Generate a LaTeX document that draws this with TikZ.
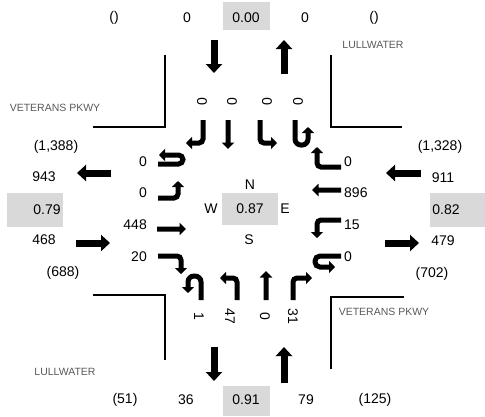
\documentclass[tikz,border=0pt]{standalone}
\usepackage{fontspec}
\setmainfont{Liberation Sans}
\usetikzlibrary{arrows.meta}
\colorlet{vcfill}{gray!30}
\colorlet{roadtext}{black!65}
\tikzset{
    bigarrow/.style={line width=7pt, -{Triangle[length=9pt,width=16pt]}},
    turnarrow/.style={line width=5pt, rounded corners=4pt, -{Triangle[length=6pt,width=12pt]}},
    vol/.style={font=\fontsize{14}{16}\selectfont, inner sep=0pt},
    roadname/.style={font=\fontsize{10.5}{12}\selectfont, text=roadtext, inner sep=0pt},
    curb/.style={line width=1.4pt}
}

\begin{document}
\begin{tikzpicture}[x=1pt, y=-1pt]
        \useasboundingbox (0,0) rectangle (485,416);
        \draw[curb] (165,55) -- (165,127) -- (93,127);
        \draw[curb] (331,55) -- (331,127) -- (402,127);
        \draw[curb] (93,295) -- (165,295) -- (165,360);
        \draw[curb] (404,297) -- (331,297) -- (331,369);
        \node[roadname] (nelabel) at (373,45) {LULLWATER};
        \node[roadname] (nwlabel) at (55,108) {VETERANS PKWY};
        \node[roadname] (swlabel) at (65,372) {LULLWATER};
        \node[roadname] (selabel) at (384,312) {VETERANS PKWY};

        \fill[vcfill] (223,2) rectangle (270,30);
        \fill[vcfill] (223,386) rectangle (270,416);
        \fill[vcfill] (7,193) rectangle (63,227);
        \fill[vcfill] (430,193) rectangle (485,227);
        \fill[vcfill] (222,193) rectangle (278,225);
        \node[vol] (nvc) at (246,18) {0.00};
        \node[vol] (svc) at (246,400) {0.91};
        \node[vol] (wvc) at (47,210) {0.79};
        \node[vol] (evc) at (446,210) {0.82};
        \node[vol] (ivc) at (250,209) {0.87};
        \node[vol] (north) at (250,185) {N};
        \node[vol] (west) at (211,209) {W};
        \node[vol] (east) at (285,209) {E};
        \node[vol] (south) at (249,240) {S};

        \foreach \x/\t [count=\i] in {114/(),187/0,305/0,374/()}
        {
            \node[vol] (ntot\i) at (\x,18) {\t};
        }
        \foreach \x/\t [count=\i] in {125/(51),186/36,306/79,375/(125)}
        {
            \node[vol] (stot\i) at (\x,400) {\t};
        }
        \node[vol] (wtot1) at (56,147) {(1,388)};
        \node[vol] (wtot2) at (44,177) {943};
        \node[vol] (wtot3) at (44,240) {468};
        \node[vol] (wtot4) at (63,273) {(688)};
        \node[vol] (etot1) at (440,147) {(1,328)};
        \node[vol] (etot2) at (443,178) {911};
        \node[vol] (etot3) at (443,241) {479};
        \node[vol] (etot4) at (432,274) {(702)};

        \foreach \x [count=\i] in {202,232,267,298}
        {
            \node[vol, rotate=90] (nlane\i) at (\x,102) {0};
        }
        \foreach \x/\t [count=\i] in {199/1,230/47,265/0,293/31}
        {
            \node[vol, rotate=-90] (slane\i) at (\x,316) {\t};
        }
        \foreach \y/\t [count=\i] in {162/0,193/0,225/448,257/20}
        {
            \node[vol, anchor=east] (wlane\i) at (147,\y) {\t};
        }
        \foreach \y/\t [count=\i] in {162/0,193/896,225/15,257/0}
        {
            \node[vol, anchor=west] (elane\i) at (344,\y) {\t};
        }

        \draw[bigarrow] (214,40) -- (214,73);
        \draw[bigarrow] (284,74) -- (284,40);
        \draw[bigarrow] (214,347) -- (214,381);
        \draw[bigarrow] (284,383) -- (284,347);
        \draw[bigarrow] (111,173) -- (77,173);
        \draw[bigarrow] (76,243) -- (110,243);
        \draw[bigarrow] (421,173) -- (386,173);
        \draw[bigarrow] (385,243) -- (419,243);

        \foreach \x/\y/\a in {228/120/-90,157/229/0,341/190/180,266/300/90}
        {
            \fill[shift={(\x,\y)}, rotate=\a] (0,-2.5) -- (22.5,-2.5) -- (22.5,-6.25) -- (29,0)
                -- (22.5,6.25) -- (22.5,2.5) -- (0,2.5) -- cycle;
        }

        \draw[turnarrow] (203,120) -- (203,143) -- (186,143);
        \draw[turnarrow] (260,120) -- (260,143) -- (277,143);
        \draw[turnarrow, rounded corners=6pt] (295,120) -- (295,145) -- (308,145) -- (308,127);

        \draw[turnarrow, rounded corners=4.5pt] (158,164) -- (183,164) -- (183,155) -- (159,155);
        \draw[turnarrow] (158,198) -- (178,198) -- (178,181);
        \draw[turnarrow] (158,256) -- (181,256) -- (181,274);

        \draw[turnarrow] (341,167) -- (317,167) -- (317,147);
        \draw[turnarrow] (341,220) -- (317,220) -- (317,238);
        \draw[turnarrow, rounded corners=5pt] (341,256) -- (315,256) -- (315,267) -- (335,267);

        \draw[turnarrow, rounded corners=6pt] (201,300) -- (201,276) -- (188,276) -- (188,293);
        \draw[turnarrow] (237,300) -- (237,278) -- (220,278);
        \draw[turnarrow] (293,300) -- (293,278) -- (312,278);
    \end{tikzpicture}
\end{document}
